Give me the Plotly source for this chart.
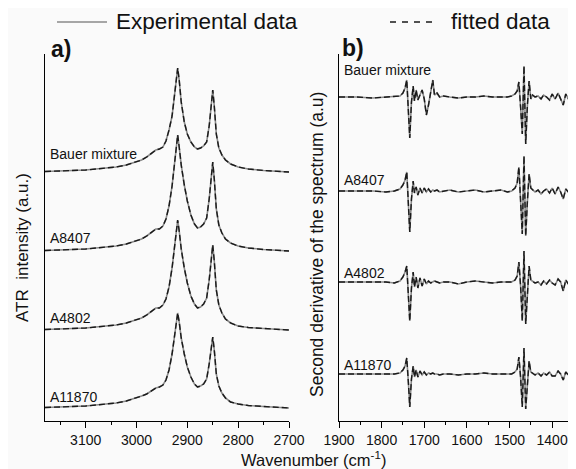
import plotly.graph_objects as go

W, H = 576, 469
OFF = 8  # the page body margin puts the figure 8 px in from the corner

# ---- panel a) ATR spectra, C-H stretching region ----
wn_atr = [3180, 3150, 3120, 3100, 3080, 3060, 3040, 3020, 3000, 2990, 2980, 2970, 2962, 2955,
          2948, 2942, 2936, 2930, 2926, 2922, 2919, 2916, 2912, 2906, 2900, 2893, 2886, 2880,
          2874, 2868, 2862, 2857, 2853, 2850, 2847, 2843, 2838, 2832, 2825, 2815, 2800, 2780,
          2750, 2720, 2700]
atr_bauer = [0.5, 1, 1.5, 2, 3, 4, 5, 7, 10, 12, 15, 19, 22, 23,
             25, 31, 42, 56, 72, 92, 104, 92, 70, 50, 38, 30, 25, 23,
             24, 26, 30, 46, 70, 82, 66, 38, 24, 17, 12, 8, 5, 3,
             1.5, 0.5, 0]
atr_a8407 = [0.5, 1, 1.5, 2, 3, 4, 5, 7, 10, 12, 15, 19, 22, 22,
             25, 32, 45, 65, 85, 105, 116, 104, 86, 66, 50, 36, 27, 23,
             24, 27, 33, 52, 76, 89, 72, 42, 26, 18, 12, 8, 5, 3,
             1.5, 0.5, 0]
atr_a4802 = [0.5, 1, 1.5, 2, 3, 4, 5, 7, 10, 12, 15, 19, 22, 22,
             25, 31, 43, 62, 81, 100, 110, 99, 81, 62, 47, 34, 26, 22,
             23, 26, 32, 50, 73, 85, 69, 40, 25, 17, 11, 7, 4, 2.5,
             1.5, 0.5, 0]
atr_a11870 = [0.5, 1, 1.5, 2, 3, 4, 5, 7, 10, 12, 14, 17, 20, 21,
              23, 28, 38, 54, 70, 87, 95, 86, 70, 54, 41, 31, 24, 21,
              22, 24, 29, 44, 61, 71, 58, 34, 22, 15, 10, 6, 4, 2.5,
              1.5, 0.5, 0]
atr_offsets = [249, 170, 91, 13]

# ---- panel b) second derivative, 1900-1340 cm-1 ----
wn_d2 = [1900, 1860, 1820, 1790, 1770, 1757, 1750, 1745, 1741, 1737, 1734, 1730, 1726, 1723,
         1719, 1715, 1710, 1705, 1700, 1695, 1690, 1685, 1680, 1676, 1670, 1664, 1655, 1640,
         1620, 1600, 1580, 1560, 1540, 1520, 1505, 1495, 1487, 1482, 1478, 1474, 1470, 1466,
         1462, 1458, 1454, 1450, 1446, 1440, 1433, 1426, 1420, 1413, 1406, 1400, 1393, 1386,
         1380, 1374, 1368, 1362, 1356, 1350, 1344]
d2_bauer = [0, 0, -1, 0, 0, 1, 4, 9, 17, -10, -41, -5, 11, -4,
            7, -3, 2, 7, -2, -18, -8, 6, 17, 2, 4, 0, 1, 0,
            -1, 0, 0, 1, 0, 0, 0, 1, 3, 6, 15, -10, -37, 31,
            -47, -8, 16, -2, 2, 0, 1, -2, 2, 0, -3, 3, -2, 4,
            -3, -8, 3, -2, 5, -1, 4]
d2_a8407 = [0, 0, 0, -1, 0, 2, 6, 11, 19, -15, -41, -8, 10, -2,
            4, -4, 3, -2, 3, -1, 2, -1, 1, 0, 1, -1, 0, 1,
            -1, 0, 1, -1, 0, 1, -1, 0, 3, 8, 24, -5, -43, 35,
            -45, -10, 17, 3, 1, -1, 1, -3, 0, 2, -2, 3, -3, 4,
            -1, -8, 2, -1, 3, -2, 2]
d2_a4802 = [0, 0, 0, 0, -1, 1, 5, 10, 16, -12, -39, -6, 10, -5,
            5, -6, 4, -4, 3, -2, 1, -1, 0, 1, 0, -1, 0, 0,
            -2, 0, 1, 0, -1, 0, 0, 0, 2, 6, 20, -4, -39, 31,
            -42, -8, 16, 2, 1, -1, 0, -3, 1, -2, 2, -1, -3, 3,
            0, -9, 2, -2, 3, -1, 1]
d2_a11870 = [0, 0, 0, 0, 0, 1, 4, 8, 16, -10, -33, -5, 8, -3,
             4, -3, 3, -1, 2, -1, 1, 0, 1, 0, 0, -1, 0, 0,
             -1, 0, 0, 1, 0, 0, 0, 0, 2, 5, 17, -3, -33, 26,
             -35, -6, 13, 2, 1, -1, 1, -2, 1, -1, 2, -2, -2, 3,
             0, -6, 2, -1, 2, -1, 1]
d2_offsets = [324, 230, 139, 47]

samples = ["Bauer mixture", "A8407", "A4802", "A11870"]
atr_series = [atr_bauer, atr_a8407, atr_a4802, atr_a11870]
d2_series = [d2_bauer, d2_a8407, d2_a4802, d2_a11870]

FONT = "Arial, Liberation Sans, sans-serif"
BG = "#fafafa"
EXP = dict(color="#8a8a8a", width=1.6)
FIT = dict(color="#1a1a1a", width=1.4, dash="6px,3px")


def px(x):
    return (x - OFF) / W


def py(y):
    return 1 - (y - OFF) / H


fig = go.Figure()
for name, ys, off in zip(samples, atr_series, atr_offsets):
    shifted = [v + off for v in ys]
    fig.add_trace(go.Scatter(x=wn_atr, y=shifted, mode="lines", line=EXP, name=name,
                             showlegend=False, xaxis="x", yaxis="y"))
    fig.add_trace(go.Scatter(x=wn_atr, y=shifted, mode="lines", line=FIT, name=name + " fit",
                             showlegend=False, xaxis="x", yaxis="y"))
for name, ys, off in zip(samples, d2_series, d2_offsets):
    shifted = [v + off for v in ys]
    fig.add_trace(go.Scatter(x=wn_d2, y=shifted, mode="lines", line=EXP, name=name,
                             showlegend=False, xaxis="x2", yaxis="y2"))
    fig.add_trace(go.Scatter(x=wn_d2, y=shifted, mode="lines", line=FIT, name=name + " fit",
                             showlegend=False, xaxis="x2", yaxis="y2"))

xcommon = dict(showline=True, linecolor="black", linewidth=1.3, showgrid=False, zeroline=False,
               automargin=False,
               ticks="outside", ticklen=6, tickwidth=1.2, tickcolor="black",
               tickfont=dict(size=14, color="#111", family=FONT),
               tickmode="linear", dtick=100,
               minor=dict(ticks="outside", ticklen=3, tickwidth=1.2, tickcolor="black", dtick=50))
ycommon = dict(showline=True, linecolor="black", linewidth=1.3, showgrid=False, zeroline=False,
               automargin=False, ticks="", showticklabels=False)

ydom = [py(421), py(54)]
fig.update_layout(
    width=W, height=H, autosize=False,
    margin=dict(l=0, r=0, t=0, b=0, pad=0),
    paper_bgcolor=BG, plot_bgcolor=BG,
    font=dict(family=FONT, color="#111"),
    xaxis=dict(domain=[px(45), px(289)], range=[3180, 2700], anchor="y", tick0=2700,
               **xcommon),
    yaxis=dict(domain=ydom, range=[0, 367], anchor="x", **ycommon),
    xaxis2=dict(domain=[px(339), px(576)], range=[1900, 1344], anchor="y2", tick0=1400,
                **xcommon),
    yaxis2=dict(domain=ydom, range=[0, 367], anchor="x2", **ycommon),
)

ann = []
# sample labels
a_lab_y = [154, 238, 318, 397]
b_lab_y = [70, 180, 273, 365]
for name, yy in zip(samples, a_lab_y):
    ann.append(dict(x=px(48), y=py(yy), text=name, xanchor="left", yanchor="middle"))
for name, yy in zip(samples, b_lab_y):
    ann.append(dict(x=px(342), y=py(yy), text=name, xanchor="left", yanchor="middle"))
ann = [dict(a, xref="paper", yref="paper", showarrow=False,
            font=dict(size=14, family=FONT, color="#111")) for a in ann]

ann += [
    dict(x=px(49), y=py(49), text="<b>a)</b>", font=dict(size=23)),
    dict(x=px(340), y=py(48), text="<b>b)</b>", font=dict(size=23)),
    dict(x=px(114), y=py(22), text="Experimental data", font=dict(size=22.5)),
    dict(x=px(449), y=py(22), text="fitted data", font=dict(size=22.5)),
]
for a in ann[-4:]:
    a.update(xref="paper", yref="paper", showarrow=False, xanchor="left", yanchor="middle")
    a["font"].update(family=FONT, color="#111")

ann += [
    dict(x=px(22), y=py(248), text="ATR\u00a0\u00a0intensity (a.u.)", textangle=-90,
         font=dict(size=17, family=FONT, color="#111")),
    dict(x=px(317), y=py(245), text="Second derivative of the spectrum (a.u)", textangle=-90,
         font=dict(size=17.5, family=FONT, color="#111")),
    dict(x=px(313), y=py(459), text="Wavenumber (cm<sup>-1</sup>)",
         font=dict(size=16.5, family=FONT, color="#111")),
]
for a in ann[-3:]:
    a.update(xref="paper", yref="paper", showarrow=False, xanchor="center", yanchor="middle")

fig.update_layout(annotations=ann)

fig.add_shape(type="line", xref="paper", yref="paper", x0=px(57), x1=px(107),
              y0=py(22), y1=py(22), line=dict(color="#8a8a8a", width=1.6))
fig.add_shape(type="line", xref="paper", yref="paper", x0=px(390), x1=px(436),
              y0=py(22), y1=py(22), line=dict(color="#1a1a1a", width=1.6, dash="6px,6px"))

fig.write_html("out.html")
